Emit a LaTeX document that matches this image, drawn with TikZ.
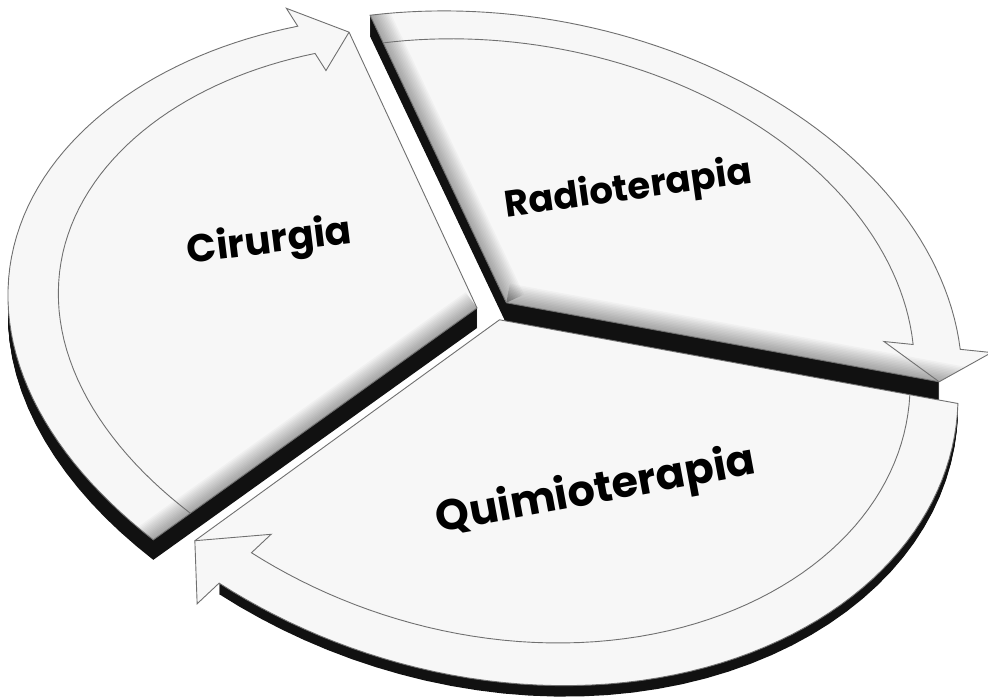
\documentclass[tikz,border=0pt]{standalone}
\usepackage{fontspec}
\newfontfamily\labfont{Poppins}
\definecolor{topc}{HTML}{F7F7F7}
\definecolor{linec}{HTML}{707070}
\definecolor{sidec}{HTML}{111111}

% perspective map of the disc plane (unit circle) to the image (hundreds of px, centred at 485,348)
\def\Ha{4.378}\def\Hb{-1.487}\def\Hc{0.08}
\def\Hd{-0.708}\def\Hee{-3.229}\def\Hf{-0.37}
\def\Hg{0.05325}\def\Hh{0.1030}

\makeatletter
\pgfkeys{/piecs/.cd, a/.store in=\pie@a, r/.store in=\pie@r, e/.store in=\pie@e, d/.store in=\pie@d}
\tikzdeclarecoordinatesystem{pie}{%
  \pgfkeys{/piecs/.cd, a=0, r=1, e=0, d=0, #1}%
  \pgfmathsetmacro\pie@f{\pie@r*(1-0.04*(max(0,cos(\pie@a-212)))^4)}%
  \pgfmathsetmacro\pie@u{\pie@f*cos(\pie@a)+\pie@d*cos(\pie@e)}%
  \pgfmathsetmacro\pie@v{\pie@f*sin(\pie@a)+\pie@d*sin(\pie@e)}%
  \pgfmathsetmacro\pie@w{\Hg*\pie@u+\Hh*\pie@v+1}%
  \pgfmathsetmacro\pie@x{485+100*(\Ha*\pie@u+\Hb*\pie@v+\Hc)/\pie@w}%
  \pgfmathsetmacro\pie@y{-348-100*(\Hd*\pie@u+\Hee*\pie@v+\Hf)/\pie@w}%
  \pgfpoint{\pie@x pt}{\pie@y pt}%
}
\makeatother

\def\hd{6.5}\def\Ri{0.895}\def\Rob{1.07}\def\Rib{0.83}\def\Rt{0.95}
% tail angle, head angle, explosion direction, explosion size
\newcommand\setpiece[4]{%
  \def\PTa{#1}\def\PHe{#2}\pgfmathsetmacro\PHn{#2+\hd}\def\PEe{#3}\def\PDd{#4}}
\newcommand\pieceface[2]{%
  \path[#1] (pie cs:r=0,e=\PEe,d=\PDd) -- (pie cs:a=\PTa,r=1,e=\PEe,d=\PDd)
    -- plot[variable=\t,domain=\PTa:\PHn,samples=#2] (pie cs:a=\t,r=1,e=\PEe,d=\PDd)
    -- (pie cs:a=\PHn,r=\Rob,e=\PEe,d=\PDd) -- (pie cs:a=\PHe,r=\Rt,e=\PEe,d=\PDd) -- cycle;}
\newcommand\piecebody[2]{%
  \path[#1] (pie cs:r=0,e=\PEe,d=\PDd) -- (pie cs:a=\PTa,r=1,e=\PEe,d=\PDd)
    -- plot[variable=\t,domain=\PTa:\PHn,samples=#2] (pie cs:a=\t,r=1,e=\PEe,d=\PDd)
    -- (pie cs:a=\PHn,r=\Ri,e=\PEe,d=\PDd) -- (pie cs:a=\PHe,r=\Rt,e=\PEe,d=\PDd) -- cycle;}
\newcommand\pieceinner[1]{%
  \path[#1] plot[variable=\t,domain=\PTa:\PHn,samples=61] (pie cs:a=\t,r=\Ri,e=\PEe,d=\PDd)
    -- (pie cs:a=\PHn,r=\Rib,e=\PEe,d=\PDd) -- (pie cs:a=\PHe,r=\Rt,e=\PEe,d=\PDd);}
\newcommand\bevel[1]{%
  \foreach \w in {3,6,...,39}{%
    \draw[line width=\w pt, black, opacity=0.028] (pie cs:r=0,e=\PEe,d=\PDd) -- (pie cs:a=#1,r=1.1,e=\PEe,d=\PDd);}}
\newcommand\extrude[1]{%
  \foreach \k in {1,...,#1}{\piecebody{fill=sidec, yshift=-\k pt}{41}}}
\newcommand\topface{%
  \pieceface{fill=topc}{61}}
\newcommand\outlines{%
  \pieceface{draw=linec, line width=0.9pt}{61}%
  \pieceinner{draw=linec, line width=0.9pt}}

\tikzset{lab/.style={font=\labfont\bfseries\fontsize{#1}{#1}\selectfont, inner sep=0pt, anchor=base}}

\begin{document}
\begin{tikzpicture}[x=1pt,y=-1pt]
\useasboundingbox[fill=white] (0,0) rectangle (988,699);
% Cirurgia
\setpiece{210}{90}{152.6}{0.035}
\extrude{20}\topface
\begin{scope}\pieceface{clip}{61}\bevel{210}\end{scope}
\outlines
% Radioterapia
\setpiece{90}{-27}{26}{0.041}
\extrude{21}\topface
\begin{scope}\pieceface{clip}{61}\bevel{90}\bevel{-27}\end{scope}
\outlines
% Quimioterapia
\setpiece{-27}{-150}{-80}{0.029}
\extrude{11}\topface
\outlines
\node[lab=39, rotate=7] (cir) at (271,253) {Cirurgia};
\node[lab=37, rotate=8] (rad) at (630,200) {Radioterapia};
\node[lab=43, rotate=10.5] (qui) at (598,503) {Quimioterapia};
\end{tikzpicture}
\end{document}
